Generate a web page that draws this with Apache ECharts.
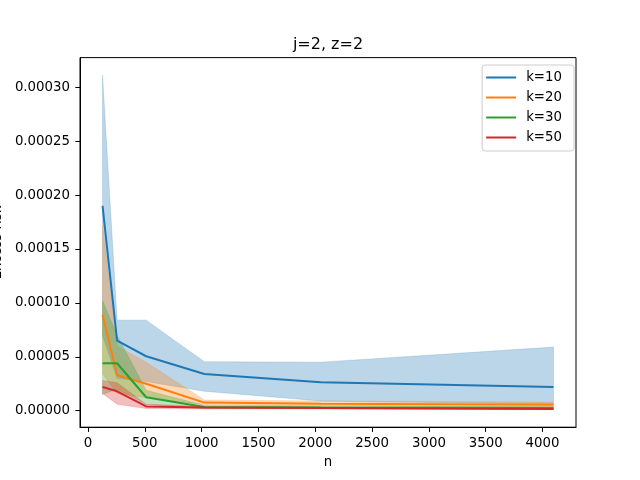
<!DOCTYPE html>
<html>
<head>
<meta charset="utf-8">
<script src="https://cdn.jsdelivr.net/npm/echarts@6/dist/echarts.min.js"></script>
<style>
  html, body { margin: 0; padding: 0; background: #fff; }
  #chart { width: 640px; height: 480px; }
</style>
</head>
<body>
<div id="chart"></div>
<script>
// sample sizes
var nValues = [128, 256, 512, 1024, 2048, 4096];
var xTicks = [0, 500, 1000, 1500, 2000, 2500, 3000, 3500, 4000];
var yTicks = [0, 0.00005, 0.0001, 0.00015, 0.0002, 0.00025, 0.0003];

// mean excess risk per k
var k10 = [0.000190, 0.000065, 0.0000505, 0.000034, 0.0000265, 0.000022];
var k20 = [0.000089, 0.000033, 0.000025, 0.0000075, 0.0000065, 0.0000055];
var k30 = [0.000044, 0.000044, 0.0000125, 0.0000035, 0.000003, 0.0000025];
var k50 = [0.000022, 0.000018, 0.000004, 0.000003, 0.0000025, 0.0000015];

// shaded band bounds per k
var k10Low = [0.000070, 0.000030, 0.000027, 0.000018, 0.000009, 0.000006];
var k10High = [0.000311, 0.000084, 0.000084, 0.0000455, 0.000045, 0.000059];
var k20Low = [0.000034, 0.000016, 0.000012, 0.0000055, 0.0000045, 0.0000035];
var k20High = [0.000172, 0.000060, 0.000045, 0.000010, 0.000009, 0.000008];
var k30Low = [0.000015, 0.000020, 0.000006, 0.000002, 0.000002, 0.0000015];
var k30High = [0.000102, 0.000070, 0.000019, 0.000005, 0.0000045, 0.000004];
var k50Low = [0.000016, 0.000006, 0.000002, 0.0000015, 0.0000015, 0.000001];
var k50High = [0.000028, 0.000026, 0.000006, 0.000004, 0.0000035, 0.0000025];

var groups = [
  { name: 'k=10', color: '#1f77b4', mean: k10, low: k10Low, high: k10High },
  { name: 'k=20', color: '#ff7f0e', mean: k20, low: k20Low, high: k20High },
  { name: 'k=30', color: '#2ca02c', mean: k30, low: k30Low, high: k30High },
  { name: 'k=50', color: '#d62728', mean: k50, low: k50Low, high: k50High }
];

// band polygon: upper edge left->right, lower edge right->left
function bandItem(color) {
  return function (params, api) {
    if (params.dataIndexInside !== 0) return null;
    var n = params.dataInsideLength;
    var pts = [];
    for (var i = 0; i < n; i++) pts.push(api.coord([api.value(0, i), api.value(2, i)]));
    for (var j = n - 1; j >= 0; j--) pts.push(api.coord([api.value(0, j), api.value(1, j)]));
    return {
      type: 'polygon',
      shape: { points: pts },
      style: { fill: color, opacity: 0.3, stroke: color, lineWidth: 0.6 }
    };
  };
}

var series = [];
groups.forEach(function (g, gi) {
  series.push({
    name: g.name,
    type: 'line',
    data: nValues.map(function (x, i) { return [x, g.mean[i]]; }),
    symbol: 'none',
    lineStyle: { color: g.color, width: 2 },
    itemStyle: { color: g.color },
    silent: true
  });
  series.push({
    name: 'band' + gi,
    type: 'custom',
    data: nValues.map(function (x, i) { return [x, g.low[i], g.high[i]]; }),
    encode: { x: 0, y: [1, 2] },
    renderItem: bandItem(g.color),
    clip: true,
    silent: true
  });
});

var font = 'DejaVu Sans';
var lineIcon = 'path://M0,6 L30,6 L30,8 L0,8 Z';
var chart = echarts.init(document.getElementById('chart'), null, { renderer: 'canvas' });
chart.setOption({
  animation: false,
  backgroundColor: '#fff',
  title: {
    text: 'j=2, z=2',
    left: 323,
    top: 32,
    textAlign: 'center',
    textStyle: { fontFamily: font, fontSize: 16, fontWeight: 'normal', color: '#000' }
  },
  legend: {
    data: groups.map(function (g) { return { name: g.name, icon: lineIcon, itemStyle: { color: g.color } }; }),
    orient: 'vertical',
    right: 66,
    top: 65,
    itemWidth: 30,
    itemHeight: 14,
    itemGap: 7,
    padding: [6, 12, 7, 4],
    borderColor: '#cccccc',
    borderWidth: 1,
    borderRadius: 3,
    backgroundColor: 'rgba(255,255,255,0.8)',
    textStyle: { fontFamily: font, fontSize: 13.33, color: '#000', padding: [0, 0, 0, 5] }
  },
  grid: {
    left: 80,
    right: 64,
    top: 57.6,
    bottom: 52.8,
    show: true,
    borderColor: '#000',
    borderWidth: 1,
    containLabel: false,
    outerBoundsMode: 'none'
  },
  xAxis: {
    type: 'value',
    min: -70.4,
    max: 4294.4,
    name: 'n',
    nameLocation: 'middle',
    nameGap: 29,
    nameTextStyle: { fontFamily: font, fontSize: 13.33, color: '#000' },
    axisLine: { show: true, onZero: false, lineStyle: { color: '#000', width: 1 } },
    axisTick: { show: true, length: 4.7, customValues: xTicks, lineStyle: { color: '#000' } },
    axisLabel: {
      customValues: xTicks,
      margin: 10,
      fontFamily: font,
      fontSize: 13.33,
      color: '#000',
      formatter: function (v) { return String(v); }
    },
    splitLine: { show: false }
  },
  yAxis: {
    type: 'value',
    min: -0.0000153,
    max: 0.0003275,
    name: 'Excess risk',
    nameLocation: 'middle',
    nameRotate: 90,
    nameGap: 74,
    nameTextStyle: { fontFamily: font, fontSize: 13.33, color: '#000' },
    axisLine: { show: true, onZero: false, lineStyle: { color: '#000', width: 1 } },
    axisTick: { show: true, length: 4.7, customValues: yTicks, lineStyle: { color: '#000' } },
    axisLabel: {
      customValues: yTicks,
      margin: 10,
      fontFamily: font,
      fontSize: 13.33,
      color: '#000',
      formatter: function (v) { return v.toFixed(5); }
    },
    splitLine: { show: false }
  },
  series: series
});
</script>
</body>
</html>
